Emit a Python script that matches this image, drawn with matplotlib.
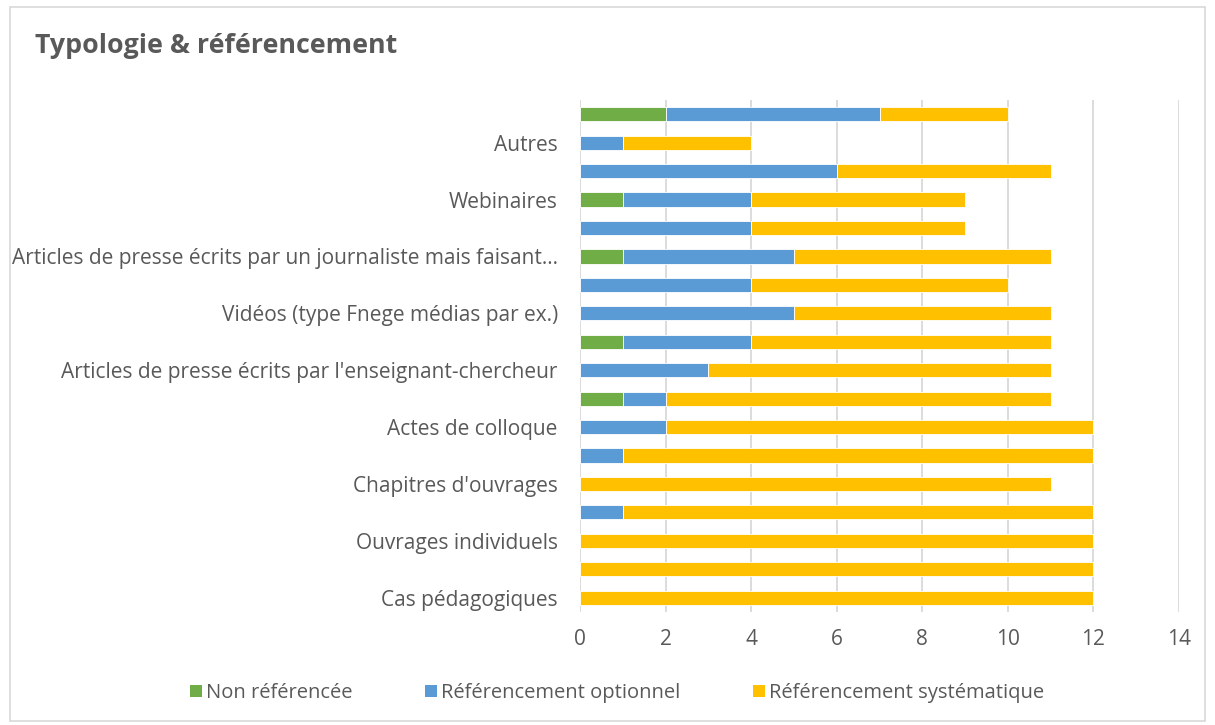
import matplotlib
matplotlib.use("Agg")
from matplotlib import pyplot as plt
from matplotlib.patches import Rectangle, Patch
import numpy as np

plt.rcParams['font.family'] = ['Open Sans', 'DejaVu Sans']

# categories from bottom to top (Excel only prints every other label)
categories = ["Cas pédagogiques", "", "Ouvrages individuels", "",
              "Chapitres d'ouvrages", "", "Actes de colloque", "",
              "Articles de presse écrits par l'enseignant-chercheur", "",
              "Vidéos (type Fnege médias par ex.)", "",
              "Articles de presse écrits par un journaliste mais faisant…", "",
              "Webinaires", "", "Autres", ""]

non_ref = [0, 0, 0, 0, 0, 0, 0, 1, 0, 1, 0, 0, 1, 0, 1, 0, 0, 2]
optionnel = [0, 0, 0, 1, 0, 1, 2, 1, 3, 3, 5, 4, 4, 4, 3, 6, 1, 5]
systematique = [12, 12, 12, 11, 11, 11, 10, 9, 8, 7, 6, 6, 6, 5, 5, 5, 3, 3]

series_names = ["Non référencée", "Référencement optionnel", "Référencement systématique"]
colors = ["#70AD47", "#5B9BD5", "#FFC000"]
text_col = "#595959"

fig = plt.figure(figsize=(12.15, 7.25), dpi=100)
fig.patches.append(Rectangle((0.008, 0.006), 0.984, 0.984, transform=fig.transFigure,
                             fill=False, edgecolor="#d9d9d9", linewidth=1.2))

ax = fig.add_axes([0.4774, 0.156, 0.493, 0.706])
y = np.arange(len(categories))
left = np.zeros(len(categories))
for vals, name, c in zip([non_ref, optionnel, systematique], series_names, colors):
    ax.barh(y, vals, left=left, height=0.5, color=c, edgecolor="white",
            linewidth=0.6, label=name, zorder=3)
    left += np.array(vals)

ax.set_xlim(0, 14)
ax.set_ylim(-0.5, len(categories) - 0.5)
ax.set_xticks(range(0, 15, 2))
ax.set_yticks(y)
ax.set_yticklabels(categories)
ax.xaxis.grid(True, color="#d9d9d9", linewidth=1.3, zorder=0)
ax.set_axisbelow(True)
for s in ax.spines.values():
    s.set_visible(False)
ax.tick_params(axis="both", length=0, labelsize=15, colors=text_col)
ax.tick_params(axis="x", pad=12)
ax.tick_params(axis="y", pad=16)

fig.text(0.029, 0.937, "Typologie & référencement", fontsize=19.3, fontweight="bold",
         color=text_col, va="center", ha="left")

handles = [Patch(facecolor=c, label=n) for c, n in zip(colors, series_names)]
fig.legend(handles=handles, loc="center", bbox_to_anchor=(0.508, 0.044), ncol=3,
           frameon=False, fontsize=14.5, labelcolor=text_col, handlelength=0.6,
           handleheight=0.6, handletextpad=0.2, columnspacing=3.6)

fig.savefig("out.png", dpi=100)
